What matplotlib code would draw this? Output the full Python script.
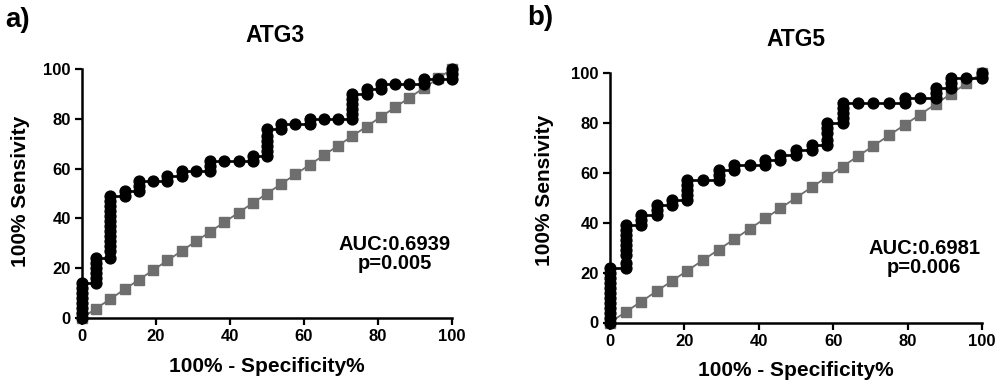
import matplotlib
matplotlib.use("Agg")
import matplotlib.pyplot as plt

plt.rcParams['font.family'] = ['Liberation Sans', 'DejaVu Sans']
plt.rcParams['font.weight'] = 'bold'

# --- data (x = 100% - Specificity%, y = Sensitivity%) ---
# ATG3
roc_x_a = [0, 0, 0, 0, 0, 0, 0, 0,
           3.8, 3.8, 3.8, 3.8, 3.8, 3.8,
           7.7, 7.7, 7.7, 7.7, 7.7, 7.7, 7.7, 7.7, 7.7, 7.7, 7.7, 7.7, 7.7,
           11.5, 11.5, 15.4, 15.4, 15.4, 19.2, 23.1, 23.1, 26.9, 26.9, 30.8,
           34.6, 34.6, 34.6, 38.5, 42.3, 46.2, 46.2,
           50, 50, 50, 50, 50, 50, 53.8, 53.8, 57.7, 61.5, 61.5, 65.4, 69.2,
           73.1, 73.1, 73.1, 73.1, 73.1, 73.1, 76.9, 76.9, 80.8, 80.8,
           84.6, 88.5, 92.3, 92.3, 96.2, 100, 100, 100]
roc_y_a = [0, 2, 4, 6, 8, 10, 12, 14,
           14, 16, 18, 20, 22, 24,
           24, 27, 29, 31, 33, 35, 37, 39, 41, 43, 45, 47, 49,
           49, 51, 51, 53, 55, 55, 55, 57, 57, 59, 59,
           59, 61, 63, 63, 63, 63, 65,
           65, 67, 69, 71, 73, 76, 76, 78, 78, 78, 80, 80, 80,
           80, 82, 84, 86, 88, 90, 90, 92, 92, 94,
           94, 94, 94, 96, 96, 96, 98, 100]
ref_x_a = [0, 3.8, 7.7, 11.5, 15.4, 19.2, 23.1, 26.9, 30.8, 34.6, 38.5, 42.3,
           46.2, 50, 53.8, 57.7, 61.5, 65.4, 69.2, 73.1, 76.9, 80.8, 84.6,
           88.5, 92.3, 96.2, 100]

# ATG5
roc_x_b = [0, 0, 0, 0, 0, 0, 0, 0, 0, 0, 0, 0,
           4.2, 4.2, 4.2, 4.2, 4.2, 4.2, 4.2, 4.2, 4.2,
           8.3, 8.3, 8.3, 12.5, 12.5, 12.5, 16.7, 16.7,
           20.8, 20.8, 20.8, 20.8, 20.8, 25, 29.2, 29.2, 29.2, 33.3, 33.3,
           37.5, 41.7, 41.7, 45.8, 45.8, 50, 50, 54.2, 54.2,
           58.3, 58.3, 58.3, 58.3, 58.3, 62.5, 62.5, 62.5, 62.5, 62.5,
           66.7, 70.8, 75, 79.2, 79.2, 83.3, 87.5, 87.5, 87.5,
           91.7, 91.7, 91.7, 95.8, 100, 100]
roc_y_b = [0, 2, 4, 6, 8, 10, 12, 14, 16, 18, 20, 22,
           22, 24, 27, 29, 31, 33, 35, 37, 39,
           39, 41, 43, 43, 45, 47, 47, 49,
           49, 51, 53, 55, 57, 57, 57, 59, 61, 61, 63,
           63, 63, 65, 65, 67, 67, 69, 69, 71,
           71, 73, 76, 78, 80, 80, 82, 84, 86, 88,
           88, 88, 88, 88, 90, 90, 90, 92, 94,
           94, 96, 98, 98, 98, 100]
ref_x_b = [0, 4.2, 8.3, 12.5, 16.7, 20.8, 25, 29.2, 33.3, 37.5, 41.7, 45.8,
           50, 54.2, 58.3, 62.5, 66.7, 70.8, 75, 79.2, 83.3, 87.5, 91.7,
           95.8, 100]

titles = ['ATG3', 'ATG5']
panel_tags = ['a)', 'b)']
auc_text = ['AUC:0.6939', 'AUC:0.6981']
p_text = ['p=0.005', 'p=0.006']
ticks = [0, 20, 40, 60, 80, 100]

fig = plt.figure(figsize=(10, 3.85), dpi=100)
W, H = 1000, 385

# axes boxes in pixels: left, top, right, bottom
boxes = [(82, 69, 452, 318), (610, 73, 982, 322.5)]
datasets = [(roc_x_a, roc_y_a, ref_x_a), (roc_x_b, roc_y_b, ref_x_b)]
title_x = [0.522, 0.5]
ylab_px = [(21, 191), (545, 190.5)]
xlab_py = [366, 370.5]
tag_px = [(18, 20), (540, 18)]

for i in range(2):
    l, t, r, b = boxes[i]
    ax = fig.add_axes([l / W, 1 - b / H, (r - l) / W, (b - t) / H])
    rx, ry, refx = datasets[i]

    # chance line
    ax.plot(refx, refx, color='#6e6e6e', lw=1.3, marker='s', ms=6.5,
            mec='#6e6e6e', mfc='#6e6e6e', clip_on=False, zorder=2)
    # ROC curve
    ax.plot(rx, ry, color='black', lw=1.9, marker='o', ms=7.8,
            clip_on=False, zorder=3)

    ax.set_xlim(0, 100)
    ax.set_ylim(0, 100)
    ax.set_xticks(ticks)
    ax.set_yticks(ticks)
    for s in ['top', 'right']:
        ax.spines[s].set_visible(False)
    for s in ['left', 'bottom']:
        ax.spines[s].set_linewidth(1.8)
    ax.tick_params(length=5, width=1.6, labelsize=12, pad=3)
    for lab in ax.get_xticklabels() + ax.get_yticklabels():
        lab.set_fontweight('bold')

    ax.set_title(titles[i], fontsize=16.5, fontweight='bold', pad=19.5,
                 x=title_x[i])

    ax.set_xlabel('100% - Specificity%', fontsize=15, fontweight='bold',
                  va='center')
    ax.xaxis.set_label_coords((l + r) / 2 / W, 1 - xlab_py[i] / H,
                              transform=fig.transFigure)
    ax.set_ylabel('100% Sensivity', fontsize=15, fontweight='bold',
                  ha='center', va='center')
    ax.yaxis.set_label_coords(ylab_px[i][0] / W, 1 - ylab_px[i][1] / H,
                              transform=fig.transFigure)

    ax.text(84.5, 27.4, auc_text[i], ha='center', va='baseline',
            fontsize=14.5, fontweight='bold')
    ax.text(84.5, 19.8, p_text[i], ha='center', va='baseline',
            fontsize=14.5, fontweight='bold')

    fig.text(tag_px[i][0] / W, 1 - tag_px[i][1] / H, panel_tags[i],
             ha='center', va='center', fontsize=20, fontweight='bold')

fig.savefig('out.png', dpi=100)
